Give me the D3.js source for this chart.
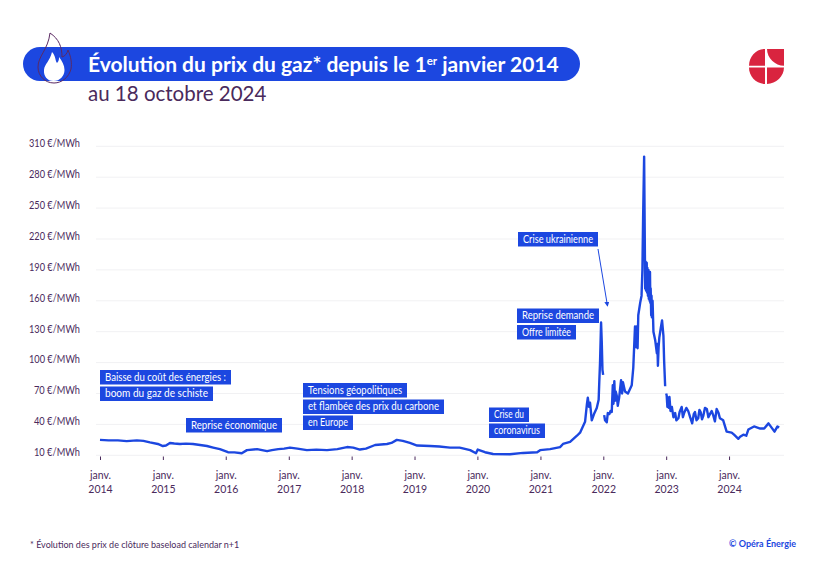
<!DOCTYPE html>
<html lang="fr">
<head>
<meta charset="utf-8">
<title>Évolution du prix du gaz</title>
<script src="https://cdn.jsdelivr.net/npm/d3@7"></script>
<style>
    html, body { margin: 0; padding: 0; background: #fff; }
    svg { display: block; }
    text { font-family: Lato, "Noto Sans", sans-serif; }
</style>
</head>
<body>
<div id="chart"></div>
<script>
// Prix de clôture (null = rupture de la courbe au changement de contrat)
const dates = [
    "2014-01-01", "2014-02-20", "2014-04-15", "2014-06-05", "2014-08-03", "2014-09-10", "2014-10-18", "2014-12-03",
    "2015-01-01", "2015-01-19", "2015-02-11", "2015-03-08", "2015-04-10", "2015-05-15", "2015-06-25", "2015-08-05",
    "2015-09-14", "2015-10-20", "2015-11-28", "2016-01-14", "2016-02-20", "2016-04-03", "2016-05-03", "2016-07-01",
    "2016-08-28", "2016-09-25", "2016-11-01", "2016-12-05", "2017-01-08", "2017-02-20", "2017-04-16", "2017-06-10",
    "2017-08-11", "2017-10-10", "2017-12-05", "2018-01-10", "2018-02-18", "2018-03-25", "2018-05-17", "2018-07-25",
    "2018-08-20", "2018-09-20", "2018-10-25", "2018-12-05", "2019-01-16", "2019-04-01", "2019-05-25", "2019-07-26",
    "2019-09-20", "2019-11-20", "2019-12-24", "2020-01-03", "2020-02-14", "2020-04-01", "2020-07-08", "2020-09-22",
    "2020-12-13", "2020-12-30", "2021-02-26", "2021-04-25", "2021-05-12", "2021-06-22", "2021-08-01", "2021-08-19",
    "2021-09-17", "2021-09-28", "2021-10-03", "2021-10-10", "2021-10-16", "2021-10-26", "2021-11-08", "2021-11-24",
    "2021-12-05", "2021-12-09", "2021-12-13", "2021-12-19", "2021-12-23", "2021-12-27", "2021-12-31", "2022-01-01",
    "2022-01-06", "2022-01-11", "2022-01-21", "2022-01-27", "2022-02-05", "2022-02-12", "2022-02-19", "2022-02-25",
    "2022-03-01", "2022-03-06", "2022-03-10", "2022-03-14", "2022-03-20", "2022-03-26", "2022-04-03", "2022-04-14",
    "2022-04-20", "2022-04-25", "2022-05-07", "2022-05-24", "2022-06-15", "2022-06-24", "2022-07-04", "2022-07-07",
    "2022-07-10", "2022-07-14", "2022-07-19", "2022-07-23", "2022-08-03", "2022-08-11", "2022-08-16", "2022-08-20",
    "2022-08-26", "2022-09-01", "2022-09-04", "2022-09-06", "2022-09-08", "2022-09-10", "2022-09-12", "2022-09-14",
    "2022-09-17", "2022-09-20", "2022-09-22", "2022-09-24", "2022-09-27", "2022-09-29", "2022-10-01", "2022-10-03",
    "2022-10-06", "2022-10-08", "2022-10-10", "2022-10-14", "2022-10-19", "2022-10-29", "2022-11-08", "2022-11-11",
    "2022-11-14", "2022-11-18", "2022-11-22", "2022-12-01", "2022-12-08", "2022-12-16", "2022-12-20", "2022-12-26",
    "2022-12-28", "2023-01-01", "2023-01-04", "2023-01-08", "2023-01-12", "2023-01-16", "2023-01-20", "2023-01-26",
    "2023-02-03", "2023-02-12", "2023-02-22", "2023-03-01", "2023-03-13", "2023-03-20", "2023-04-01", "2023-04-08",
    "2023-04-15", "2023-04-28", "2023-05-09", "2023-05-20", "2023-06-01", "2023-06-10", "2023-06-17", "2023-06-26",
    "2023-07-06", "2023-07-13", "2023-07-20", "2023-07-28", "2023-08-04", "2023-08-14", "2023-08-25", "2023-09-03",
    "2023-09-12", "2023-09-22", "2023-10-01", "2023-10-11", "2023-10-21", "2023-11-01", "2023-11-09", "2023-11-28",
    "2023-12-18", "2024-01-16", "2024-01-30", "2024-02-24", "2024-03-05", "2024-03-24", "2024-04-10", "2024-04-22",
    "2024-05-25", "2024-06-30", "2024-07-23", "2024-08-17", "2024-09-21", "2024-10-08", "2024-10-18"
];
const prices = [
    25, 24.5, 24.5, 23.8, 24.5, 24, 22.5, 21,
    19, 19.5, 22, 21.5, 21, 21.3, 21, 20,
    19, 17.5, 16, 13, 12.8, 12, 15, 16,
    14, 15, 16, 16.5, 17.5, 16.5, 15, 15.5,
    15, 16, 18, 17.5, 15.6, 16.5, 20, 21,
    22, 25, 24, 22, 19.5, 19, 18.5, 17.5,
    17.5, 15, 12, 15.6, 13, 11.3, 11, 12.3,
    13, 15, 16, 18, 21, 23, 29, 32,
    42.5, 60, 66, 57, 61, 44, 50, 56,
    64, 83, 100, 139, 120, 93, 88, null,
    49, 44, 42, 51, 50, 53, 52, 78,
    60, 82, 63, 72, 68, 58, 66, 83,
    70, 81, 72, 70, 78, 95, 135, 118,
    115, 135, 114, 146, 158, 165, 190, 240,
    300, 172, 198, 170, 195, 197, 168, 192,
    165, 190, 162, 185, 160, 188, 158, 172,
    146, 165, 144, 160, 130, 122, 109, 118,
    97, 115, 124, 134, 141, 126, 102, 77,
    null, 70, 68, 57, 66, 56, 66.6, 53,
    57, 47, 51, 44, 46, 52, 57, 47,
    51, 56, 53, 47, 41, 50, 52, 44,
    46, 54, 52, 45, 48, 56, 55, 47,
    50, 53, 49, 43, 55, 51, 46, 44,
    33, 32, 30, 26, 28, 30, 29, 35,
    38, 36, 36, 41, 33, 38, 37
];

const yTicks = [10, 40, 70, 100, 130, 160, 190, 220, 250, 280, 310];
const annotationLines = [
    "Baisse du coût des énergies :", "boom du gaz de schiste", "Reprise économique",
    "Tensions géopolitiques", "et flambée des prix du carbone", "en Europe",
    "Crise du", "coronavirus", "Crise ukrainienne", "Reprise demande", "Offre limitée"
];
// coin haut-gauche et largeur de chaque étiquette
const annotationX = [100, 100, 186, 303, 303, 303, 489, 489, 518, 517, 517];
const annotationY = [370, 386.5, 418, 383, 399.5, 415.5, 407.5, 423.5, 232, 308.5, 325];
const annotationW = [131, 113, 96, 104, 141, 50, 40, 56, 80, 82, 59];

const blue = "#1c47e0";
const ink = "#4a2a5c";

const width = 820, height = 580;
const parseDay = d3.utcParse("%Y-%m-%d");

const svg = d3.select("#chart").append("svg")
    .attr("width", width)
    .attr("height", height);

const x = d3.scaleUtc()
    .domain([parseDay("2014-01-01"), parseDay("2024-11-15")])
    .range([100, 784]);

const y = d3.scaleLinear()
    .domain([10, 310])
    .range([455.3, 146.3]);

// Grid
svg.append("g")
    .attr("stroke", "#f1f1f3")
    .selectAll("line")
    .data(yTicks)
    .join("line")
    .attr("x1", 96)
    .attr("x2", 784)
    .attr("y1", d => y(d))
    .attr("y2", d => y(d));

// Y axis, labels sit a little above their grid line
const yAxis = svg.append("g")
    .attr("transform", "translate(80,-3)")
    .call(d3.axisLeft(y).tickValues(yTicks).tickSize(0).tickPadding(0).tickFormat(d => `${d} €/MWh`));
yAxis.select(".domain").remove();
yAxis.selectAll("text")
    .style("font-family", "Lato, sans-serif")
    .style("font-size", "10.5px")
    .style("fill", ink)
    .attr("textLength", d => d < 100 ? 46 : 51)
    .attr("lengthAdjust", "spacingAndGlyphs");

// X axis
const xAxis = svg.append("g")
    .attr("transform", "translate(0,456.5)")
    .call(d3.axisBottom(x).tickValues(d3.utcYear.range(parseDay("2014-01-01"), parseDay("2024-06-01"))).tickSize(3.5).tickFormat(""));
xAxis.select(".domain").remove();
xAxis.selectAll("line").attr("stroke", ink).attr("stroke-width", 1);
xAxis.selectAll(".tick").each(function (d) {
    const tick = d3.select(this);
    tick.select("text").remove();
    tick.append("text").attr("y", 22).attr("text-anchor", "middle")
        .style("font-size", "10.5px").style("fill", ink).text("janv.");
    tick.append("text").attr("y", 36).attr("text-anchor", "middle")
        .style("font-size", "10.5px").style("fill", ink).text(d3.utcFormat("%Y")(d));
});

// Price line
const points = dates.map((d, i) => ({ date: parseDay(d), price: prices[i] }));
const line = d3.line()
    .defined(d => d.price !== null)
    .x(d => x(d.date))
    .y(d => y(d.price));

svg.append("path")
    .datum(points)
    .attr("fill", "none")
    .attr("stroke", blue)
    .attr("stroke-width", 2.4)
    .attr("stroke-linejoin", "round")
    .attr("d", line);

// Annotations
const notes = svg.append("g")
    .selectAll("g")
    .data(annotationLines)
    .join("g")
    .attr("transform", (d, i) => `translate(${annotationX[i]},${annotationY[i]})`);
notes.append("rect")
    .attr("width", (d, i) => annotationW[i])
    .attr("height", 14.5)
    .attr("fill", blue);
notes.append("text")
    .attr("x", 5)
    .attr("y", 10.8)
    .attr("fill", "#fff")
    .attr("textLength", (d, i) => annotationW[i] - 10)
    .attr("lengthAdjust", "spacingAndGlyphs")
    .style("font-size", "10.5px")
    .text(d => d);

// Arrow for the Ukraine crisis
svg.append("defs").append("marker")
    .attr("id", "arrow")
    .attr("viewBox", "0 0 6 6")
    .attr("refX", 5).attr("refY", 3)
    .attr("markerWidth", 5).attr("markerHeight", 5)
    .attr("orient", "auto")
    .append("path")
    .attr("d", "M0,0L6,3L0,6Z")
    .attr("fill", blue);
svg.append("line")
    .attr("x1", 598).attr("y1", 249)
    .attr("x2", 607.5).attr("y2", 306)
    .attr("stroke", blue)
    .attr("stroke-width", 1)
    .attr("marker-end", "url(#arrow)");

// Header
svg.append("rect")
    .attr("x", 23).attr("y", 47)
    .attr("width", 557).attr("height", 34)
    .attr("rx", 17)
    .attr("fill", blue);

const title = svg.append("text")
    .attr("x", 88).attr("y", 71.5)
    .attr("fill", "#fff")
    .style("font-size", "21px")
    .style("font-weight", 700);
title.append("tspan").text("Évolution du prix du gaz* depuis le 1");
title.append("tspan").attr("dy", -7).style("font-size", "11.5px").text("er");
title.append("tspan").attr("dy", 7).text(" janvier 2014");

svg.append("text")
    .attr("x", 88).attr("y", 101)
    .attr("fill", ink)
    .style("font-size", "20.5px")
    .text("au 18 octobre 2024");

// Flame
svg.append("path")
    .attr("d", "M53.5,81C47,81 43.5,76 44,70C44.5,64 50,61 52,52C56,56 55,61 57,63C59,61 59,59 59,57C62,61 64.5,65 64.5,70C64.5,76 60,81 53.5,81Z")
    .attr("fill", "#fff");
svg.append("path")
    .attr("d", "M50,33C59,39 62,47 62,57C65,56 67,54 68,50C71,57 72,63 71,69C69,77 62,83 54,83C45,83 38,76 38,67C38,56 48,50 50,33Z")
    .attr("fill", "none")
    .attr("stroke", "#5b2a63")
    .attr("stroke-width", 1);

// Logo
const logo = svg.append("g").attr("fill", "#d9243f");
logo.append("path").attr("d", "M765,49L765,65.8L749,65.8C749,56.5 756,49 765,49Z");
logo.append("path").attr("d", "M767,49L784,49L784,65.8C775,65.8 767,58 767,49Z");
logo.append("path").attr("d", "M749,67.6L765,67.6L765,84C756,84 749,76.5 749,67.6Z");
logo.append("path").attr("d", "M767,67.6L784,67.6C784,76.5 776,84 767,84Z");

// Footer
svg.append("text")
    .attr("x", 30).attr("y", 548)
    .attr("fill", ink)
    .style("font-size", "9px")
    .text("* Évolution des prix de clôture baseload calendar n+1");
svg.append("text")
    .attr("x", 796).attr("y", 547)
    .attr("text-anchor", "end")
    .attr("fill", blue)
    .style("font-size", "9px")
    .style("font-weight", 700)
    .text("© Opéra Énergie");

// The dates and prices arrays must stay the same length
console.assert(dates.length === prices.length, dates.length, prices.length);
</script>
</body>
</html>
